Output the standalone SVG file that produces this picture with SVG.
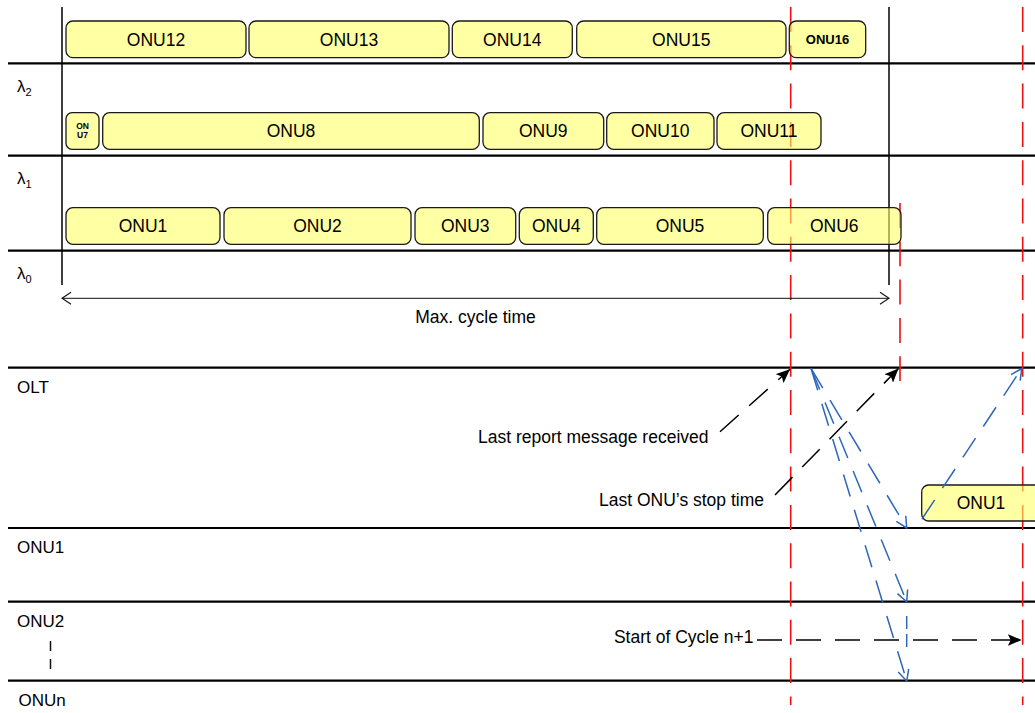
<svg xmlns="http://www.w3.org/2000/svg" width="1035" height="713" viewBox="0 0 1035 713">
<style>
  .bg{fill:#ffffff}
  .hl{stroke:#000;stroke-width:2.2;fill:none}
  .vl{stroke:#000;stroke-width:1.5;fill:none}
  .red{stroke:#ee1111;stroke-width:1.6;stroke-dasharray:25 13.3;fill:none}
  .box{fill:#ffff66;fill-opacity:0.6;stroke:#1a1a1a;stroke-width:1.3}
  .t{font-family:"Liberation Sans",Arial,Helvetica,sans-serif;fill:#000}
  .lbl{font-size:17.5px;text-anchor:middle}
  .side{font-size:17px}
  .call{font-size:17.5px}
  .bdash{stroke:#000;stroke-width:1.5;stroke-dasharray:25 14;fill:none}
  .blue{stroke:#2e67b8;stroke-width:1.5;stroke-dasharray:23 14;fill:none}
  .dim{stroke:#111;stroke-width:1;fill:none}
</style>
<defs>
  <marker id="blk" viewBox="0 0 14 12" refX="14" refY="6" markerWidth="14" markerHeight="12" markerUnits="userSpaceOnUse" orient="auto">
    <path d="M0,0 L14,6 L0,12 L3,6 Z" fill="#000"/>
  </marker>
  <marker id="opn" viewBox="0 0 14 14" refX="13" refY="7" markerWidth="14" markerHeight="14" markerUnits="userSpaceOnUse" orient="auto">
    <path d="M2,1.5 L13,7 L2,12.5" fill="none" stroke="#2e67b8" stroke-width="1.5"/>
  </marker>
  <marker id="chev" viewBox="0 0 12 14" refX="11" refY="7" markerWidth="12" markerHeight="14" markerUnits="userSpaceOnUse" orient="auto-start-reverse">
    <path d="M2,1 L11,7 L2,13" fill="none" stroke="#111" stroke-width="1.1"/>
  </marker>
</defs>
<rect class="bg" x="0" y="0" width="1035" height="713"/>

<g id="grid">
  <line class="hl" x1="8" y1="63.3" x2="1035" y2="63.3"/>
  <line class="hl" x1="8" y1="155.7" x2="1035" y2="155.7"/>
  <line class="hl" x1="8" y1="250.7" x2="1035" y2="250.7"/>
  <line class="hl" x1="8" y1="367.7" x2="1035" y2="367.7"/>
  <line class="hl" x1="8" y1="528" x2="1035" y2="528"/>
  <line class="hl" x1="8" y1="601.7" x2="1035" y2="601.7"/>
  <line class="hl" x1="8" y1="680.7" x2="1035" y2="680.7"/>
  <line class="vl" x1="62" y1="7" x2="62" y2="285"/>
  <line class="vl" x1="889" y1="7" x2="889" y2="285"/>
  <line class="red" x1="790.7" y1="7" x2="790.7" y2="705"/>
  <line class="red" x1="900" y1="203" x2="900" y2="381"/>
  <line class="red" x1="1022.7" y1="7" x2="1022.7" y2="705"/>
  <line class="dim" x1="50.5" y1="641" x2="50.5" y2="670" stroke-dasharray="10 8" style="stroke-width:1.5"/>
</g>

<g id="labels" class="t">
  <text class="side" x="17" y="91.5">λ<tspan font-size="11" dy="4">2</tspan></text>
  <text class="side" x="17" y="183.5">λ<tspan font-size="11" dy="4">1</tspan></text>
  <text class="side" x="17" y="279">λ<tspan font-size="11" dy="4">0</tspan></text>
  <text class="side" x="17" y="393">OLT</text>
  <text class="side" x="17" y="553">ONU1</text>
  <text class="side" x="17" y="626.5">ONU2</text>
  <text class="side" x="18.5" y="705.5">ONUn</text>
  <text class="call" x="475.5" y="323.3" text-anchor="middle">Max. cycle time</text>
  <text class="call" x="708.5" y="442.7" text-anchor="end">Last report message received</text>
  <text class="call" x="764" y="505.7" text-anchor="end">Last ONU’s stop time</text>
  <text class="call" x="753.5" y="643.3" text-anchor="end">Start of Cycle n+1</text>
</g>

<g id="row-l2">
  <g id="onu12"><rect class="box" x="66" y="21" width="180" height="36.7" rx="7"/><text class="t lbl" x="156" y="45.5">ONU12</text></g>
  <g id="onu13"><rect class="box" x="249" y="21" width="200" height="36.7" rx="7"/><text class="t lbl" x="349" y="45.5">ONU13</text></g>
  <g id="onu14"><rect class="box" x="452.3" y="21" width="120" height="36.7" rx="7"/><text class="t lbl" x="512.3" y="45.5">ONU14</text></g>
  <g id="onu15"><rect class="box" x="576.7" y="21" width="209.3" height="36.7" rx="7"/><text class="t lbl" x="681.3" y="45.5">ONU15</text></g>
  <g id="onu16"><rect class="box" x="789.3" y="21" width="76.4" height="36.7" rx="7"/><text class="t" x="827.5" y="44.3" font-size="13" font-weight="bold" text-anchor="middle">ONU16</text></g>
</g>

<g id="row-l1">
  <g id="onu7"><rect class="box" x="66" y="112.7" width="33" height="36.6" rx="6"/>
    <text class="t" x="82.5" y="128.5" font-size="8.5" font-weight="bold" text-anchor="middle">ON</text>
    <text class="t" x="82.5" y="138" font-size="8.5" font-weight="bold" text-anchor="middle">U7</text></g>
  <g id="onu8"><rect class="box" x="102.7" y="112.7" width="376.6" height="36.6" rx="7"/><text class="t lbl" x="291" y="137.3">ONU8</text></g>
  <g id="onu9"><rect class="box" x="483" y="112.7" width="120.7" height="36.6" rx="7"/><text class="t lbl" x="543.3" y="137.3">ONU9</text></g>
  <g id="onu10"><rect class="box" x="606.7" y="112.7" width="107.3" height="36.6" rx="7"/><text class="t lbl" x="660.3" y="137.3">ONU10</text></g>
  <g id="onu11"><rect class="box" x="717" y="112.7" width="104" height="36.6" rx="7"/><text class="t lbl" x="769" y="137.3">ONU11</text></g>
</g>

<g id="row-l0">
  <g id="onu1"><rect class="box" x="66" y="207.7" width="154" height="36.6" rx="7"/><text class="t lbl" x="143" y="232.3">ONU1</text></g>
  <g id="onu2"><rect class="box" x="224" y="207.7" width="187" height="36.6" rx="7"/><text class="t lbl" x="317.5" y="232.3">ONU2</text></g>
  <g id="onu3"><rect class="box" x="415" y="207.7" width="100.7" height="36.6" rx="7"/><text class="t lbl" x="465.3" y="232.3">ONU3</text></g>
  <g id="onu4"><rect class="box" x="519.3" y="207.7" width="74" height="36.6" rx="7"/><text class="t lbl" x="556.3" y="232.3">ONU4</text></g>
  <g id="onu5"><rect class="box" x="596.7" y="207.7" width="166.6" height="36.6" rx="7"/><text class="t lbl" x="680" y="232.3">ONU5</text></g>
  <g id="onu6"><rect class="box" x="767.7" y="207.7" width="133.3" height="36.6" rx="7"/><text class="t lbl" x="834.3" y="232.3">ONU6</text></g>
</g>

<g id="onu1-next"><rect class="box" x="921.7" y="485" width="125" height="36" rx="7"/><text class="t lbl" x="981" y="509">ONU1</text></g>

<g id="connectors">
  <line class="dim" x1="62" y1="298.3" x2="889" y2="298.3" marker-start="url(#chev)" marker-end="url(#chev)"/>
  <line class="bdash" x1="720" y1="431.7" x2="790" y2="369.3" marker-end="url(#blk)"/>
  <line class="bdash" x1="775" y1="495" x2="898.5" y2="368.5" marker-end="url(#blk)"/>
  <line class="bdash" x1="757" y1="640" x2="1021.7" y2="640" marker-end="url(#blk)"/>
  <line class="blue" x1="811" y1="368.3" x2="906.7" y2="528" marker-end="url(#opn)"/>
  <line class="blue" x1="811" y1="368.3" x2="906.7" y2="601.7" marker-end="url(#opn)"/>
  <line class="blue" x1="811" y1="368.3" x2="906.7" y2="681" marker-end="url(#opn)"/>
  <line class="blue" x1="906.7" y1="616" x2="906.7" y2="650" style="stroke-dasharray:13 5"/>
  <line class="blue" x1="922" y1="519" x2="1021.7" y2="368.5" marker-end="url(#opn)"/>
</g>
</svg>
